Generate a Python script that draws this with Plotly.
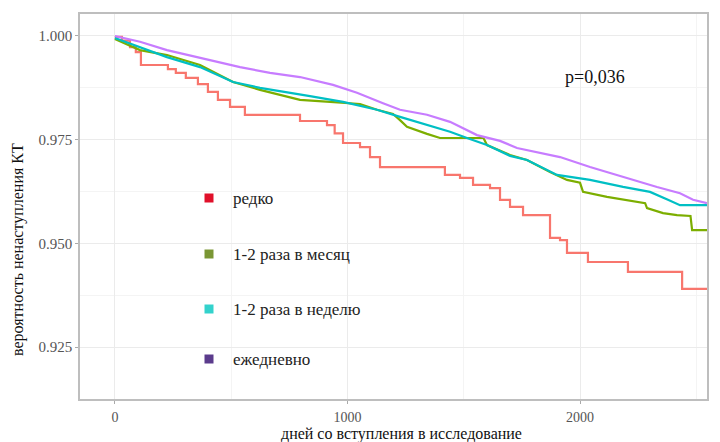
import plotly.graph_objects as go

# ---- data ----
red_days = [0, 30, 65, 90, 112, 228, 262, 305, 357, 400, 443, 495, 559, 796, 912, 945, 981, 1054, 1097, 1140, 1419, 1484, 1540, 1613, 1656, 1699, 1755, 1871, 1914, 1944, 2034, 2206, 2439, 2546]
red_surv = [0.9998, 0.9989, 0.9973, 0.9961, 0.9930, 0.9920, 0.9911, 0.9899, 0.9884, 0.9865, 0.9846, 0.9829, 0.9810, 0.9795, 0.9785, 0.9765, 0.9742, 0.9732, 0.9708, 0.9684, 0.9665, 0.9658, 0.9641, 0.9633, 0.9605, 0.9588, 0.9568, 0.9513, 0.9508, 0.9477, 0.9455, 0.9431, 0.9390, 0.9390]

green_days = [0, 108, 224, 366, 508, 624, 710, 796, 925, 1054, 1127, 1196, 1226, 1256, 1342, 1398, 1585, 1600, 1699, 1772, 1871, 1944, 2000, 2013, 2116, 2280, 2288, 2357, 2417, 2475, 2482, 2546]
green_surv = [0.9993, 0.9966, 0.9954, 0.9930, 0.9889, 0.9870, 0.9858, 0.9846, 0.9841, 0.9836, 0.9822, 0.9812, 0.9797, 0.9781, 0.9764, 0.9754, 0.9754, 0.9737, 0.9713, 0.9701, 0.9672, 0.9653, 0.9646, 0.9624, 0.9612, 0.9597, 0.9585, 0.9573, 0.9568, 0.9566, 0.9532, 0.9532]

cyan_days = [0, 108, 224, 366, 508, 624, 723, 839, 981, 1127, 1226, 1342, 1441, 1514, 1600, 1699, 1772, 1901, 2043, 2185, 2301, 2378, 2430, 2546]
cyan_surv = [0.9995, 0.9973, 0.9949, 0.9925, 0.9889, 0.9875, 0.9865, 0.9855, 0.9841, 0.9822, 0.9805, 0.9785, 0.9769, 0.9754, 0.9737, 0.9711, 0.9701, 0.9665, 0.9653, 0.9636, 0.9624, 0.9605, 0.9592, 0.9592]

purple_days = [0, 108, 224, 366, 538, 667, 796, 938, 1041, 1153, 1226, 1342, 1441, 1557, 1656, 1729, 1914, 2043, 2185, 2331, 2430, 2486, 2546]
purple_surv = [1.0000, 0.9986, 0.9966, 0.9947, 0.9925, 0.9911, 0.9901, 0.9882, 0.9863, 0.9838, 0.9822, 0.9810, 0.9793, 0.9761, 0.9747, 0.9730, 0.9708, 0.9684, 0.9660, 0.9636, 0.9621, 0.9605, 0.9597]

group_names = ["редко", "1-2 раза в месяц", "1-2 раза в неделю", "ежедневно"]
line_colors = ["#F8766D", "#7CAE00", "#00BFC4", "#C77CFF"]
legend_colors = ["#E0102A", "#7A9634", "#33D2CC", "#5B3B8C"]

x_ticks = [0, 1000, 2000]
y_ticks = [0.925, 0.950, 0.975, 1.000]
p_text = "p=0,036"
x_title = "дней со вступления в исследование"
y_title = "вероятность ненаступления КТ"

series = [(red_days, red_surv, "hv"), (green_days, green_surv, "linear"),
          (cyan_days, cyan_surv, "linear"), (purple_days, purple_surv, "linear")]

serif = "Liberation Serif"

# layout geometry (pixels)
W, H = 712, 434
ML, MR, MT, MB = 72, 13, 6, 43
PW, PH = W - ML - MR, H - MT - MB


def px_x(px):  # figure pixel -> paper x
    return (px - ML) / PW


def px_y(py):  # figure pixel -> paper y
    return (H - MB - py) / PH


fig = go.Figure()
for (d, s, shp), col in zip(series, line_colors):
    fig.add_trace(go.Scatter(x=d, y=s, mode="lines", line=dict(color=col, width=2.2, shape=shp),
                             showlegend=False, hoverinfo="skip"))

# legend drawn inside the panel (squares + labels)
leg_rows = [190, 246, 301, 351]
sq = 9
for yrow, name, col in zip(leg_rows, group_names, legend_colors):
    fig.add_shape(type="rect", xref="paper", yref="paper",
                  x0=px_x(201 - sq / 2), x1=px_x(201 + sq / 2),
                  y0=px_y(yrow + sq / 2), y1=px_y(yrow - sq / 2),
                  fillcolor=col, line=dict(width=0))
    fig.add_annotation(x=px_x(223), y=px_y(yrow), xref="paper", yref="paper",
                       xanchor="left", yanchor="middle", showarrow=False, text=name,
                       font=dict(family=serif, size=17, color="#222222"))

fig.add_annotation(x=2065, y=0.9901, text=p_text, showarrow=False, xref="x", yref="y",
                   font=dict(family=serif, size=18, color="#111111"))

fig.add_annotation(x=px_x(393), y=px_y(426), xref="paper", yref="paper", showarrow=False,
                   xanchor="center", yanchor="middle", text=x_title,
                   font=dict(family=serif, size=16, color="#111111"))
fig.add_annotation(x=px_x(10), y=px_y(242), xref="paper", yref="paper", showarrow=False,
                   xanchor="center", yanchor="middle", text=y_title, textangle=-90,
                   font=dict(family=serif, size=16, color="#111111"))

fig.update_layout(
    width=W, height=H,
    margin=dict(l=ML, r=MR, t=MT, b=MB),
    paper_bgcolor="white", plot_bgcolor="white",
    font=dict(family=serif, color="#222222"),
    showlegend=False,
)

fig.update_xaxes(range=[-150, 2546], tickvals=x_ticks, ticktext=[str(v) for v in x_ticks],
                 automargin=False,
                 showgrid=True, gridcolor="#EBEBEB", gridwidth=1,
                 minor=dict(dtick=500, tick0=0, showgrid=True, gridcolor="#F4F4F4", gridwidth=1),
                 ticks="outside", ticklen=3, tickcolor="#AAAAAA", ticklabelstandoff=1,
                 tickfont=dict(family=serif, size=14, color="#555555"),
                 showline=True, linecolor="#BEBEBE", linewidth=1.5, mirror=True, zeroline=False)

fig.update_yaxes(range=[0.91247, 1.0053], tickvals=y_ticks, ticktext=[f"{v:.3f}" for v in y_ticks],
                 automargin=False,
                 showgrid=True, gridcolor="#EBEBEB", gridwidth=1,
                 minor=dict(tickvals=[0.9125, 0.9375, 0.9625, 0.9875], showgrid=True, gridcolor="#F4F4F4", gridwidth=1),
                 ticks="outside", ticklen=3, tickcolor="#AAAAAA",
                 tickfont=dict(family=serif, size=15, color="#555555"),
                 showline=True, linecolor="#BEBEBE", linewidth=1.5, mirror=True, zeroline=False)

fig.write_html("out.html")
